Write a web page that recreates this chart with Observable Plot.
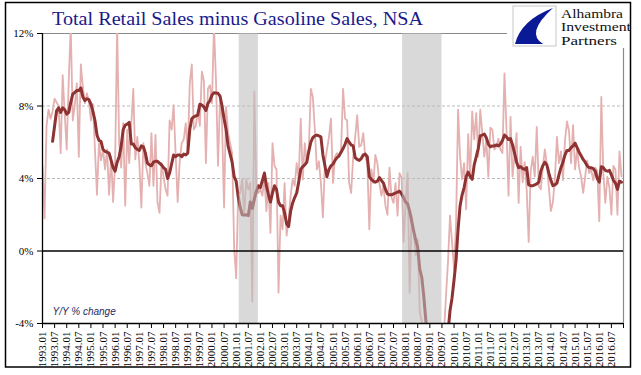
<!DOCTYPE html>
<html><head><meta charset="utf-8">
<script src="https://cdn.jsdelivr.net/npm/d3@7"></script>
<script src="https://cdn.jsdelivr.net/npm/@observablehq/plot@0.6"></script>
<style>
html,body{margin:0;padding:0;background:#fff;}
#chart{position:relative;width:641px;height:375px;}
</style></head><body><div id="chart"></div>
<script>
// ---- data ----
const startYear = 1993;
const title = "Total Retail Sales minus Gasoline Sales, NSA";
const yNote = "Y/Y % change";
const logoLines = ["Alhambra", "Investment", "Partners"];
const yTicks = [-4, 0, 4, 8, 12];

// monthly Y/Y % change, 1993.01 .. 2016.12
const yoy = [
  4.7, 1.8, 6.9, 7.8, 7.3, 7.7, 8.4, 8.2, 8.0, 5.4, 9.7, 7.6,
  5.6, 9.4, 12.4, 7.2, 8.0, 9.25, 5.2, 10.3, 9.05, 8.15, 8.7, 8.25,
  7.2, 8.1, 5.6, 3.1, 5.95, 5.0, 5.6, 4.5, 5.6, 3.1, 5.2, 2.7,
  4.85, 12.4, 5.95, 4.6, 7.05, 2.5, 6.7, 4.85, 6.95, 8.95, 5.05, 6.3,
  4.85, 2.4, 5.95, 4.85, 4.3, 3.6, 6.5, 3.6, 6.4, 2.7, 2.1, 4.85,
  4.1, 3.4, 3.05, 7.2, 6.7, 8.05, 5.3, 2.7, 4.95, 5.95, 6.15, 7.05,
  5.4, 9.25, 10.3, 6.7, 6.9, 7.8, 6.9, 9.9, 9.4, 4.85, 8.95, 9.15,
  8.15, 12.4, 9.4, 4.7, 8.5, 7.05, 2.4, 7.95, 6.5, 5.95, 5.4, 0.2,
  -1.5, 3.2, 3.2, 3.95, 1.95, 3.95, 3.4, 3.75, -2.8, 8.8, 3.4, 3.2,
  3.4, 3.05, 4.1, 2.2, 3.75, 1.0, 5.95, 4.7, 4.5, -2.3, 1.95, 1.2,
  3.75, 0.85, 1.75, 3.05, 3.95, 3.6, 4.85, 3.95, 7.3, 3.95, 5.95, 4.85,
  5.6, 8.95, 8.5, 6.7, 4.5, 4.95, 3.75, 1.85, 4.85, 5.6, 6.3, 7.3,
  3.75, 5.2, 5.4, 5.2, 5.6, 8.95, 7.3, 7.2, 3.75, 3.2, 5.2, 6.3,
  7.5, 5.75, 5.85, 6.5, 5.2, 4.85, 1.2, 4.5, 3.75, 5.3, 4.85, 3.75,
  3.05, 3.6, 2.5, 2.0, 4.6, 2.95, 2.65, 3.75, 1.95, 4.3, 4.05, 0.5,
  2.65, 4.3, -2.3, 1.95, 1.0, -0.25, 0.65, -3.35, -3.9, -5.5, -6.5, -8.0,
  -7.0, -9.0, -8.5, -8.0, -9.0, -9.0, -6.5, -4.5, -2.5, -0.6, 1.95, 0.5,
  -1.0, 1.55, 7.8, 5.2, 3.95, 4.85, 2.3, 6.45, 4.1, 7.7, 6.15, 7.6,
  5.2, 7.8, 6.5, 5.2, 6.15, 4.1, 6.8, 6.7, 5.6, 5.75, 6.2, 5.6,
  5.4, 9.8, 6.7, 3.05, 7.4, 4.1, 5.3, 6.5, 2.65, 5.75, 3.8, 4.9,
  3.4, 0.5, 4.4, 5.2, 4.1, 6.85, 3.6, 3.4, 4.6, 5.6, 4.8, 3.5,
  2.2, 2.7, 4.0, 6.3, 4.85, 5.5, 3.9, 6.1, 7.15, 6.6, 4.85, 6.95,
  4.5, 5.6, 4.6, 4.1, 3.2, 4.1, 5.0, 4.3, 4.5, 3.9, 4.6, 4.4,
  1.65, 8.5, 4.3, 2.65, 4.1, 3.5, 2.0, 4.7, 4.5, 2.0, 5.5, 4.1
];

// six-month average line, starting 1993.06
const avgStart = "1993.06";
const avg6 = [
  6.05, 6.9, 7.75, 7.9, 7.65, 7.9, 7.8,
  7.55, 7.65, 8.2, 8.65, 8.75, 8.85, 8.85, 9.0, 8.5, 8.3, 8.4, 8.35,
  8.1, 7.7, 7.2, 6.4, 6.1, 6.05, 5.6, 5.5, 5.45, 5.4, 5.0, 4.6,
  4.4, 4.9, 5.2, 5.8, 6.7, 6.95, 7.0, 7.1, 5.9, 5.9, 5.7, 5.6,
  5.55, 5.8, 5.75, 5.4, 4.85, 4.75, 4.7, 4.9, 4.95, 4.95, 4.85, 4.75,
  4.6, 4.5, 4.0, 4.3, 4.8, 5.3, 5.2, 5.3, 5.3, 5.2, 5.35, 5.3,
  5.4, 6.7, 7.3, 7.4, 7.45, 7.5, 8.1, 8.05, 7.95, 7.75, 8.15, 8.3,
  8.6, 8.73, 8.72, 8.7, 8.55, 8.0, 7.3, 6.7, 5.8, 5.35, 4.9, 4.1,
  3.85, 3.0, 2.4, 2.0, 1.98, 2.0, 1.95, 2.7, 2.35, 2.85, 3.3, 3.6,
  3.5, 3.9, 4.3, 3.6, 3.1, 2.7, 3.2, 3.6, 3.4, 2.7, 2.5, 2.5,
  2.1, 1.5, 1.35, 2.2, 2.65, 2.95, 3.2, 3.8, 4.5, 4.65, 4.75, 4.9,
  5.5, 6.0, 6.25, 6.35, 6.4, 6.35, 6.3, 5.3, 4.7, 4.1, 4.5, 4.7,
  4.8, 5.0, 5.15, 5.25, 5.45, 5.65, 5.9, 6.2, 6.0, 5.85, 5.8, 5.15,
  5.05, 5.0, 5.1, 5.3, 5.35, 5.2, 4.1, 3.95, 3.85, 3.8, 3.85, 4.05,
  3.9, 3.75, 3.4, 3.15, 3.1, 3.1, 3.15, 3.2, 3.25, 3.3, 3.15, 2.95,
  2.7, 2.6, 2.2, 1.65, 1.1, 0.6, 0.2, -1.0, -1.45, -2.5, -3.8, -5.0,
  -6.0, -7.0, -7.5, -8.0, -8.2, -8.0, -7.5, -6.5, -5.5, -4.5, -3.3, -2.6,
  -1.6, -0.5, 1.2, 2.5, 3.1, 3.5, 4.1, 4.35, 4.1, 3.95, 4.75, 5.2,
  5.65, 6.35, 6.4, 6.45, 6.25, 5.9, 5.75, 5.8, 5.8, 5.85, 5.8, 5.9,
  6.1, 6.4, 6.3, 6.15, 6.2, 5.85, 5.4, 4.9, 4.6, 4.65, 4.55, 4.5,
  4.6, 3.65, 3.6, 3.6, 3.65, 3.7, 3.8, 4.4, 4.7, 4.9, 4.75, 4.3,
  3.9, 3.6, 3.65, 3.75, 4.2, 4.6, 4.9, 5.3, 5.55, 5.55, 5.7, 5.8,
  5.95, 5.7, 5.45, 5.25, 5.05, 4.9, 4.7, 4.6, 4.6, 4.55, 4.4, 4.0,
  3.8, 4.65, 4.6, 4.45, 4.4, 4.45, 4.2, 3.9, 3.75, 3.4, 3.85, 3.8
];

const recessions = [
  {start: "2001.03", end: "2001.11"},
  {start: "2007.12", end: "2009.06"}
];

// ---- helpers ----
function monthIndex(label) {
  const [y, m] = label.split(".").map(Number);
  return (y - startYear) * 12 + (m - 1);
}
function monthLabel(i) {
  const y = startYear + Math.floor(i / 12);
  return y + "." + String(i % 12 + 1).padStart(2, "0");
}
const months = yoy.map((_, i) => monthLabel(i));
const xTicks = d3.range(0, months.length + 1, 6);
const rawData = yoy.map((v, i) => ({m: i, v}));
const a0 = monthIndex(avgStart);
const avgData = avg6.map((v, i) => ({m: a0 + i, v}));
const bands = recessions.map(r => ({x1: monthIndex(r.start) - 0.5, x2: monthIndex(r.end) + 1}));

const serif = "'Liberation Serif', 'Times New Roman', serif";

const svg = Plot.plot({
  width: 641,
  height: 375,
  marginTop: 33,
  marginRight: 18,
  marginBottom: 52,
  marginLeft: 42,
  style: {fontFamily: serif, fontSize: "11px", color: "#000", background: "transparent"},
  x: {
    domain: [0, months.length],
    ticks: xTicks,
    tickFormat: i => (i < months.length ? months[i] : ""),
    tickRotate: -90,
    tickSize: 5,
    tickPadding: 3,
    label: null
  },
  y: {
    domain: [-4, 12],
    ticks: yTicks,
    tickFormat: d => d + "%",
    tickSize: 5,
    tickPadding: 4,
    label: null
  },
  marks: [
    Plot.ruleY([4, 8], {stroke: "#a8a8a8", strokeWidth: 0.8, strokeDasharray: "3,2"}),
    Plot.ruleY([12], {stroke: "#8a8a8a", strokeWidth: 1.2}),
    Plot.ruleX([months.length], {stroke: "#8a8a8a", strokeWidth: 1.2}),
    Plot.line(rawData, {x: "m", y: "v", stroke: "#e4b0b0", strokeWidth: 1.8, clip: true}),
    Plot.line(avgData, {x: "m", y: "v", stroke: "#8e3232", strokeWidth: 3, clip: true}),
    Plot.rect(bands, {x1: "x1", x2: "x2", fill: "#bdbdbd", fillOpacity: 0.57}),
    Plot.ruleY([0], {stroke: "#000", strokeWidth: 1.3}),
    Plot.ruleY([-4], {stroke: "#000", strokeWidth: 1.3}),
    Plot.ruleX([0], {stroke: "#000", strokeWidth: 1.3}),
    Plot.text([yNote], {
      text: d => d, frameAnchor: "bottom-left", dx: 10, dy: -9,
      fontStyle: "italic", fontFamily: "'Liberation Sans', Arial, sans-serif",
      fontSize: 10, fill: "#1f2a5c", textAnchor: "start"
    })
  ]
});

document.getElementById("chart").appendChild(svg);

// ---- title, logo, border ----
const s = d3.select(svg);
s.append("text")
  .attr("x", 52).attr("y", 25)
  .attr("text-anchor", "start")
  .attr("fill", "#1a1a8c")
  .attr("font-family", serif)
  .attr("font-size", 19.5)
  .attr("textLength", 371)
  .attr("lengthAdjust", "spacingAndGlyphs")
  .text(title);

const logo = s.append("g");
logo.append("rect").attr("x", 507).attr("y", 0).attr("width", 134).attr("height", 48).attr("fill", "#fff");
const bx = 513, by = 6, bw = 43, bh = 40;
logo.append("rect").attr("x", bx).attr("y", by).attr("width", bw).attr("height", bh)
  .attr("fill", "#fff").attr("stroke", "#c8c8c8").attr("stroke-width", 1);
logo.append("path")
  .attr("d", `M${bx + bw - 3},${by + 2} Q${bx + 8},${by + 14} ${bx + 2},${by + bh - 2} L${bx + bw * 0.7},${by + bh - 2} Q${bx + 12},${by + bh * 0.68} ${bx + bw - 3},${by + 2} Z`)
  .attr("fill", "#0a1a96");
const logoWidths = [62, 70, 56];
logoLines.forEach((t, i) => {
  logo.append("text")
    .attr("x", 561).attr("y", 17.5 + i * 13.5)
    .attr("text-anchor", "start")
    .attr("font-family", serif)
    .attr("font-size", 11.5)
    .attr("textLength", logoWidths[i])
    .attr("lengthAdjust", "spacingAndGlyphs")
    .attr("fill", "#111")
    .text(t);
});

s.append("rect").attr("x", 5.5).attr("y", 2.5).attr("width", 625).attr("height", 364.5)
  .attr("fill", "none").attr("stroke", "#000").attr("stroke-width", 1.5);
</script>
</body></html>
